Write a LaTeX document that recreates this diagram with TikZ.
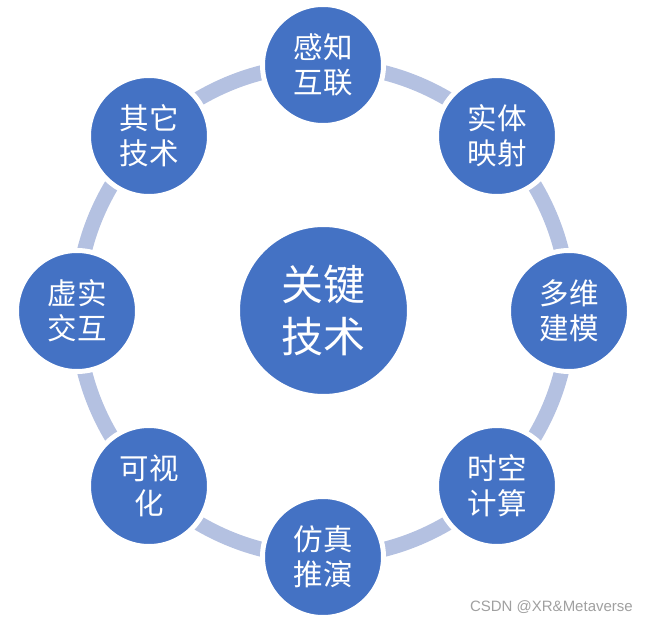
\documentclass[tikz,border=0pt]{standalone}
\usepackage{fontspec}
\setmainfont{Liberation Sans}
\newfontfamily\cjk{Noto Sans CJK SC}
\definecolor{nodeblue}{RGB}{68,114,196}
\definecolor{ringblue}{RGB}{180,193,225}
\definecolor{wmgray}{RGB}{160,160,160}
\begin{document}
\begin{tikzpicture}[x=1pt,y=-1pt,
  outer/.style={circle,fill=nodeblue,draw=white,line width=5pt,minimum size=121pt,inner sep=0pt,
    text=white,font=\cjk\fontsize{29.5}{35}\selectfont,align=center},
  hub/.style={circle,fill=nodeblue,draw=white,line width=4pt,minimum size=171pt,inner sep=0pt,
    text=white,font=\cjk\fontsize{42}{52}\selectfont,align=center},
  ring/.style={draw=ringblue,line width=15pt}]
\useasboundingbox (0,0) rectangle (648,623);
\coordinate (c) at (323,311);
\draw[ring] (c) circle[radius=246];
\node[hub] (k) at (323.5,310.5) {关键\\技术};
\node[outer] (n1) at (323,65) {感知\\互联};
\node[outer] (n2) at (497,136) {实体\\映射};
\node[outer] (n3) at (569,311) {多维\\建模};
\node[outer] (n4) at (497,486) {时空\\计算};
\node[outer] (n5) at (323,557) {仿真\\推演};
\node[outer] (n6) at (149,486) {可视\\化};
\node[outer] (n7) at (77,311) {虚实\\交互};
\node[outer] (n8) at (149,136) {其它\\技术};
\node[text=wmgray,font=\fontsize{15}{17}\selectfont,anchor=east,inner sep=0pt] (wm) at (633,607) {CSDN @XR\&Metaverse};
\end{tikzpicture}
\end{document}
